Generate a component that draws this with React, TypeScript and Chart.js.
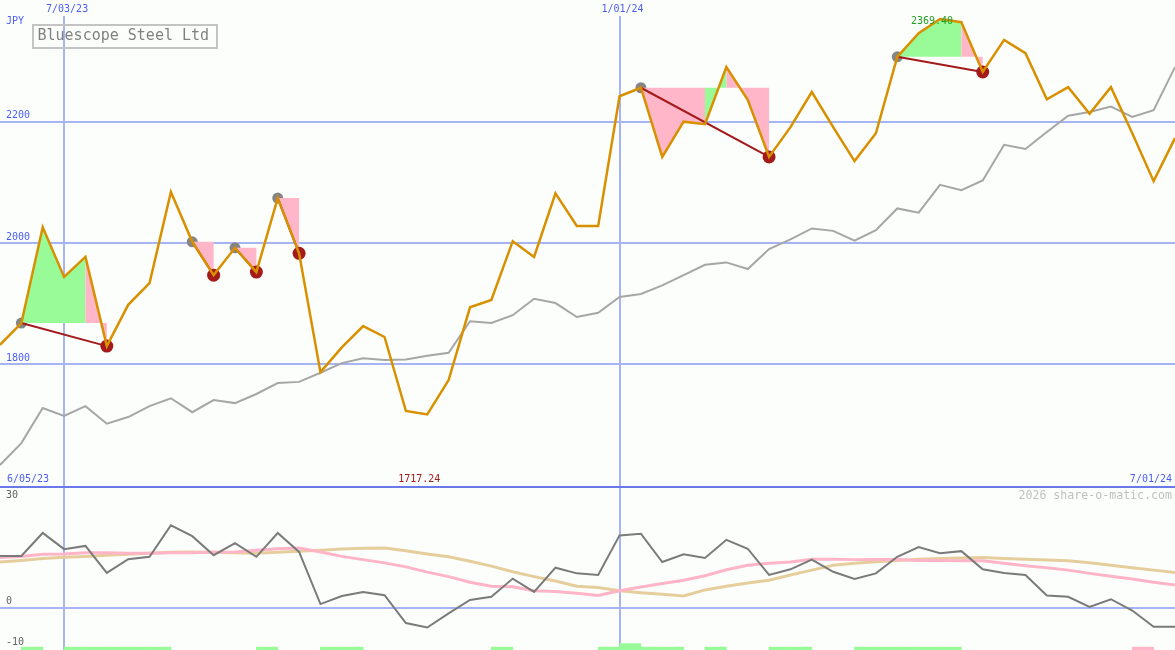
import React, { useEffect, useRef } from 'react';
import { Chart, registerables } from 'chart.js';

Chart.register(...registerables);

const weeks = [
  '6/12/23', '6/19/23', '6/26/23', '7/03/23', '7/10/23', '7/17/23', '7/24/23', '7/31/23',
  '8/07/23', '8/14/23', '8/21/23', '8/28/23', '9/04/23', '9/11/23', '9/18/23', '9/25/23',
  '10/02/23', '10/09/23', '10/16/23', '10/23/23', '10/30/23', '11/06/23', '11/13/23', '11/20/23',
  '11/27/23', '12/04/23', '12/11/23', '12/18/23', '12/25/23', '1/01/24', '1/08/24', '1/15/24',
  '1/22/24', '1/29/24', '2/05/24', '2/12/24', '2/19/24', '2/26/24', '3/04/24', '3/11/24',
  '3/18/24', '3/25/24', '4/01/24', '4/08/24', '4/15/24', '4/22/24', '4/29/24', '5/06/24',
  '5/13/24', '5/20/24', '5/27/24', '6/03/24', '6/10/24', '6/17/24', '6/24/24', '7/01/24',
];

const price = [
  1832, 1868, 2026, 1944, 1977, 1830, 1898, 1934, 2084, 2002,
  1947, 1992, 1952, 2074, 1983, 1787, 1828, 1863, 1845, 1723,
  1717.24, 1774, 1894, 1906, 2003, 1977, 2082, 2028, 2028, 2242,
  2256, 2142, 2200, 2196, 2290, 2236, 2142, 2191, 2249, 2191,
  2135, 2181, 2307, 2346, 2369.4, 2364, 2282, 2335, 2313, 2237,
  2257, 2213, 2257, 2181, 2102, 2173,
];

const compare = [
  1634, 1670, 1728, 1715, 1731, 1702, 1713, 1731, 1744, 1721,
  1741, 1736, 1751, 1769, 1771, 1786, 1802, 1810, 1807, 1808,
  1814, 1819, 1871, 1868, 1881, 1908, 1901, 1878, 1885, 1911,
  1916, 1930, 1947, 1964, 1968, 1957, 1990, 2006, 2024, 2020,
  2004, 2021, 2057, 2050, 2096, 2087, 2103, 2162, 2155, 2183,
  2210, 2216, 2225, 2208, 2219, 2290,
];

const momentum = [
  12.8, 12.8, 18.5, 14.5, 15.3, 8.6, 12.0, 12.6, 20.4, 17.7,
  13.0, 16.0, 12.6, 18.5, 13.8, 0.9, 2.9, 3.9, 3.1, -3.8,
  -4.9, -1.4, 1.9, 2.7, 7.2, 3.9, 9.9, 8.5, 8.1, 17.9,
  18.3, 11.3, 13.2, 12.3, 16.8, 14.6, 8.1, 9.5, 11.9, 8.9,
  7.1, 8.5, 12.6, 15.0, 13.5, 14.0, 9.5, 8.6, 8.1, 3.0,
  2.7, 0.2, 2.1, -0.7, -4.7, -4.7,
];

const fastAvg = [
  12.4, 12.7, 13.2, 13.3, 13.6, 13.6, 13.5, 13.5, 13.6, 13.6,
  13.7, 13.8, 14.2, 14.6, 14.8, 13.8, 12.7, 11.9, 11.1, 10.1,
  8.8, 7.7, 6.3, 5.3, 5.2, 4.2, 4.0, 3.6, 3.0, 4.2,
  5.1, 6.0, 6.8, 7.9, 9.4, 10.5, 11.0, 11.3, 12.0, 12.0,
  11.9, 11.9, 11.9, 11.7, 11.7, 11.6, 11.6, 11.0, 10.4, 9.9,
  9.3, 8.5, 7.8, 7.1, 6.3, 5.6,
];

const slowAvg = [
  11.3, 11.7, 12.2, 12.5, 12.7, 13.0, 13.2, 13.5, 13.7, 13.8,
  13.7, 13.6, 13.5, 13.7, 14.0, 14.2, 14.5, 14.7, 14.8, 14.1,
  13.3, 12.6, 11.5, 10.3, 8.9, 7.7, 6.6, 5.3, 5.0, 4.2,
  3.7, 3.3, 2.9, 4.4, 5.3, 6.1, 6.8, 8.1, 9.3, 10.5,
  11.0, 11.4, 11.7, 12.0, 12.2, 12.3, 12.4, 12.2, 12.0, 11.8,
  11.6, 11.1, 10.5, 9.9, 9.3, 8.7,
];

// one entry per week-to-week interval: 1 = green, 2 = strong green, -1 = pink, 0 = none
const signals = [
  0, 1, 0, 1, 1, 1, 1, 1, 0, 0,
  0, 0, 1, 0, 0, 1, 1, 0, 0, 0,
  0, 0, 0, 1, 0, 0, 0, 0, 1, 2,
  1, 1, 0, 1, 0, 0, 1, 1, 0, 0,
  1, 1, 1, 1, 1, 0, 0, 0, 0, 0,
  0, 0, 0, -1, 0,
];

const buyWeeks = [1, 9, 11, 13, 30, 42];
const sellWeeks = [5, 10, 12, 14, 36, 46];

const priceTicks = [1800, 2000, 2200];
const lowerGridTicks = [0, 30];
const lowerTickLabels = [30, 0, -10];
const dateMarks = ['7/03/23', '1/01/24'];
const rangeStart = '6/05/23';
const rangeEnd = '7/01/24';
const title = 'Bluescope Steel Ltd';
const currency = 'JPY';
const credit = '2026 share-o-matic.com';

const GRID = '#a6b4f4';
const SEP = '#6a78ea';
const BLUE_TEXT = '#4c5ef2';
const GREEN = '#98fb98';
const PINK = '#ffb6c8';
const DARK_RED = '#a31a1a';
const MONO = '"DejaVu Sans Mono", "Liberation Mono", monospace';

const overlayPlugin = {
  id: 'overlay',
  afterDatasetDraw(chart: any, args: any) {
    const ds = chart.data.datasets[args.index];
    if (ds.label !== 'Buy') return;
    const xs = chart.scales.x;
    const ys = chart.scales.y;
    const ctx = chart.ctx;
    const area = chart.chartArea;
    ctx.save();
    ctx.beginPath();
    ctx.rect(area.left, area.top, area.right - area.left, area.bottom - area.top);
    ctx.clip();
    [GREEN, PINK].forEach((colour) => {
      ctx.beginPath();
      buyWeeks.forEach((b, t) => {
        const s = sellWeeks[t];
        const ref = price[b];
        const yRef = ys.getPixelForValue(ref);
        for (let k = b; k < s; k++) {
          const c = price[k + 1] > ref ? GREEN : PINK;
          if (c !== colour) continue;
          const x0 = xs.getPixelForValue(k);
          const x1 = xs.getPixelForValue(k + 1);
          ctx.moveTo(x0, yRef);
          ctx.lineTo(x0, ys.getPixelForValue(price[k]));
          ctx.lineTo(x1, ys.getPixelForValue(price[k + 1]));
          ctx.lineTo(x1, yRef);
          ctx.closePath();
        }
      });
      ctx.fillStyle = colour;
      ctx.fill();
    });
    ctx.restore();
  },
  afterDraw(chart: any) {
    const ctx = chart.ctx;
    const xs = chart.scales.x;
    const ys = chart.scales.y;
    const y2 = chart.scales.y2;
    const area = chart.chartArea;
    const sepY = y2.getPixelForValue(30);
    ctx.save();
    ctx.textBaseline = 'middle';
    ctx.font = `10px ${MONO}`;

    // price axis labels
    ctx.fillStyle = BLUE_TEXT;
    ctx.textAlign = 'left';
    priceTicks.forEach((v) => ctx.fillText(String(v), 6, ys.getPixelForValue(v) - 6));
    ctx.fillText(currency, 6, 21);

    // date labels
    ctx.textAlign = 'center';
    dateMarks.forEach((d) => {
      const i = weeks.indexOf(d);
      ctx.fillText(d, xs.getPixelForValue(i) + 3, 9);
    });
    ctx.textAlign = 'left';
    ctx.fillText(rangeStart, area.left + 7, sepY - 7.5);
    ctx.textAlign = 'right';
    ctx.fillText(rangeEnd, area.right - 3, sepY - 7.5);

    // extremes
    let minI = 0;
    let maxI = 0;
    price.forEach((v, i) => {
      if (v < price[minI]) minI = i;
      if (v > price[maxI]) maxI = i;
    });
    ctx.textAlign = 'center';
    ctx.fillStyle = DARK_RED;
    ctx.fillText(price[minI].toFixed(2), xs.getPixelForValue(minI) - 8, sepY - 7.5);
    ctx.fillStyle = '#22a022';
    ctx.fillText(price[maxI].toFixed(2), xs.getPixelForValue(maxI) - 8, area.top + 5.5);

    // lower panel labels
    ctx.fillStyle = '#606060';
    ctx.textAlign = 'left';
    lowerTickLabels.forEach((v) => {
      const py = Math.max(y2.getPixelForValue(v) - 6, sepY + 9);
      ctx.fillText(String(v), 6, py);
    });

    // credit
    ctx.font = `11.6px ${MONO}`;
    ctx.fillStyle = '#c0c0c0';
    ctx.textAlign = 'right';
    ctx.fillText(credit, area.right - 3, sepY + 9.5);

    // title box
    ctx.strokeStyle = '#c4c4c4';
    ctx.lineWidth = 2;
    ctx.strokeRect(33, 25, 184, 23);
    ctx.font = `15px ${MONO}`;
    ctx.fillStyle = '#808080';
    ctx.textAlign = 'left';
    ctx.fillText(title, 37.5, 36.5);
    ctx.restore();
  },
};

export default function App() {
  const ref = useRef<HTMLCanvasElement | null>(null);

  useEffect(() => {
    if (!ref.current) return;
    const buyPts = price.map((v, i) => (buyWeeks.includes(i) ? v : null));
    const sellPts = price.map((v, i) => (sellWeeks.includes(i) ? v : null));
    const barBase = -11;
    const bars = signals.map((s) => (s === 0 ? null : [barBase, barBase + (s === 2 ? 2.1 : 1.25)]));
    const barColors = signals.map((s) => (s < 0 ? PINK : GREEN));

    const tradeLines = buyWeeks.map((b, t) => ({
      label: 'Trade',
      data: [
        { x: weeks[b], y: price[b] },
        { x: weeks[sellWeeks[t]], y: price[sellWeeks[t]] },
      ],
      borderColor: DARK_RED,
      borderWidth: 2,
      pointRadius: 0,
      xAxisID: 'x',
      yAxisID: 'y',
      order: 8,
    }));

    const chart = new Chart(ref.current, {
      type: 'line',
      data: {
        labels: weeks,
        datasets: [
          { label: 'Index', data: compare, borderColor: '#a6a6a6', borderWidth: 2, pointRadius: 0, yAxisID: 'y', order: 10 },
          { label: 'Buy', data: buyPts, showLine: false, pointRadius: 5.5, pointBackgroundColor: '#858585', pointBorderWidth: 0, yAxisID: 'y', order: 9 },
          ...tradeLines,
          { label: 'Sell', data: sellPts, showLine: false, pointRadius: 6.5, pointBackgroundColor: DARK_RED, pointBorderWidth: 0, yAxisID: 'y', order: 7 },
          { label: 'Price', data: price, borderColor: '#d99000', borderWidth: 2.5, pointRadius: 0, yAxisID: 'y', order: 6 },
          { label: 'Slow', data: slowAvg, borderColor: '#e6cd9c', borderWidth: 3, pointRadius: 0, yAxisID: 'y2', order: 5 },
          { label: 'Fast', data: fastAvg, borderColor: '#ffb4c8', borderWidth: 3, pointRadius: 0, yAxisID: 'y2', order: 4 },
          { label: 'Momentum', data: momentum, borderColor: '#7a7a7a', borderWidth: 2, pointRadius: 0, yAxisID: 'y2', order: 3 },
          {
            type: 'bar', label: 'Signal', data: bars, xAxisID: 'x2', yAxisID: 'y2', grouped: false,
            backgroundColor: barColors, borderWidth: 0, barPercentage: 1, categoryPercentage: 1, order: 2,
          },
        ] as any,
      },
      options: {
        animation: false,
        responsive: false,
        maintainAspectRatio: false,
        events: [],
        layout: { autoPadding: false, padding: { top: 16, left: 0, right: 0, bottom: 0 } },
        elements: { line: { tension: 0 } },
        plugins: { legend: { display: false }, tooltip: { enabled: false }, title: { display: false } },
        scales: {
          x: {
            type: 'category',
            offset: false,
            grid: { color: GRID, lineWidth: 2, drawTicks: false, offset: false },
            border: { display: false },
            ticks: { display: false, autoSkip: false },
            afterBuildTicks: (axis: any) => {
              axis.ticks = axis.ticks.filter((t: any) => dateMarks.includes(weeks[t.value]));
            },
          },
          x2: {
            type: 'category',
            labels: weeks.slice(0, -1),
            offset: true,
            display: false,
            grid: { offset: true },
            ticks: { autoSkip: false },
          },
          y: {
            type: 'linear',
            position: 'left',
            min: 1328.9,
            max: 2374.3,
            grid: { color: GRID, lineWidth: 2, drawTicks: false },
            border: { display: false },
            ticks: { display: false },
            afterBuildTicks: (axis: any) => {
              axis.ticks = priceTicks.map((v) => ({ value: v }));
            },
          },
          y2: {
            type: 'linear',
            position: 'right',
            min: -10.47,
            max: 146.46,
            grid: {
              color: (c: any) => (c.tick && c.tick.value === 30 ? SEP : GRID),
              lineWidth: 2,
              drawTicks: false,
            },
            border: { display: false },
            ticks: { display: false },
            afterBuildTicks: (axis: any) => {
              axis.ticks = lowerGridTicks.map((v) => ({ value: v }));
            },
          },
        } as any,
      },
      plugins: [overlayPlugin],
    });
    return () => chart.destroy();
  }, []);

  return (
    <div style={{ position: 'absolute', left: 0, top: 0, width: 1175, height: 650, background: '#fcfefc' }}>
      <canvas ref={ref} width={1175} height={650} style={{ display: 'block', width: 1175, height: 650 }} />
    </div>
  );
}
